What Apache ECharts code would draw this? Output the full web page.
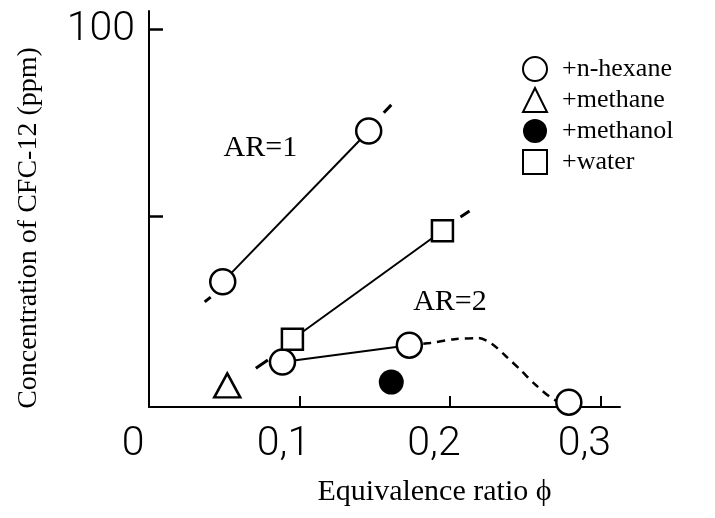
<!DOCTYPE html>
<html>
<head>
<meta charset="utf-8">
<script src="https://cdn.jsdelivr.net/npm/echarts@6/dist/echarts.min.js"></script>
<style>
  html, body { margin: 0; padding: 0; background: #fff; }
  #chart { width: 715px; height: 518px; }
</style>
</head>
<body>
<div id="chart"></div>
<script>
// values, [equivalence ratio, ppm]
const hexaneAR1 = [[0.049, 32.3], [0.146, 72.8]]
const hexaneAR2 = [[0.0887, 10.8], [0.173, 15.3]]
const hexaneAR2Tail = [[0.173, 15.3], [0.187, 15.9], [0.203, 16.9], [0.219, 17.2], [0.228, 15.6],
  [0.237, 12.4], [0.247, 8.6], [0.257, 4.6], [0.270, 0.5], [0.279, 0]]
const hexaneLone = [[0.279, 0]]
const methane = [[0.052, 4.5]]
const methanol = [[0.161, 5.4]]
const water = [[0.0953, 16.9], [0.195, 46]]
// short extension strokes beyond the fitted lines
const extensions = [
  [0.037, 26.9], [0.041, 28.2], '-',
  [0.156, 77.7], [0.161, 79.8], '-',
  [0.207, 49.7], [0.213, 51.3], '-',
  [0.071, 9.1], [0.079, 11.3],
]
const arLabels = [
  { value: [0.074, 68.3], text: 'AR=1' },
  { value: [0.2, 26.9], text: 'AR=2' },
]
const xTicks = [0.1, 0.2, 0.3]
const xLabels = [0, 0.1, 0.2, 0.3]
const yTicks = [50, 100]
const yLabels = [100]

const serif = "'Liberation Serif', 'Times New Roman', serif"
const narrow = "Roboto, 'DejaVu Sans Condensed', sans-serif"

const openStyle = { color: '#fff', borderColor: '#000', borderWidth: 2.5, opacity: 1 }

function lineSeries(data, extra) {
  return Object.assign({
    type: 'line',
    data,
    symbol: 'none',
    silent: true,
    lineStyle: { color: '#000', width: 2 },
    z: 2,
  }, extra)
}

const chart = echarts.init(document.getElementById('chart'))
chart.setOption({
  animation: false,
  backgroundColor: '#fff',
  grid: { left: 149, right: 95, top: 11, bottom: 111, outerBoundsMode: 'none' },
  legend: {
    orient: 'vertical',
    left: 517,
    top: 51,
    itemWidth: 24,
    itemHeight: 24,
    itemGap: 5,
    data: ['+n-hexane', '+methane', '+methanol', '+water'],
    textStyle: { fontFamily: serif, fontSize: 26, lineHeight: 24, color: '#000', padding: [0, 0, 0, 10] },
  },
  xAxis: {
    type: 'value',
    min: 0,
    max: 0.313,
    name: 'Equivalence ratio ϕ',
    nameLocation: 'middle',
    nameGap: 70,
    nameTextStyle: { fontFamily: serif, fontSize: 30, color: '#000', padding: [0, 0, 0, 100] },
    axisLine: { onZero: false, lineStyle: { color: '#000', width: 2 } },
    axisTick: { inside: true, length: 11, customValues: xTicks, lineStyle: { color: '#000', width: 2 } },
    axisLabel: {
      customValues: xLabels,
      formatter: (v) => String(v).replace('.', ','),
      fontFamily: narrow,
      fontWeight: 300,
      fontSize: 41,
      lineHeight: 40,
      color: '#000',
      margin: 18,
      padding: [0, 32, 0, 0],
    },
    splitLine: { show: false },
  },
  yAxis: {
    type: 'value',
    min: -1.3,
    max: 105,
    name: 'Concentration of CFC-12 (ppm)',
    nameLocation: 'middle',
    nameGap: 106,
    nameTextStyle: { fontFamily: serif, fontSize: 28, color: '#000', padding: [0, 38, 0, 0] },
    axisLine: { show: true, onZero: false, lineStyle: { color: '#000', width: 2 } },
    axisTick: { show: true, inside: true, length: 14, customValues: yTicks, lineStyle: { color: '#000', width: 2.5 } },
    axisLabel: {
      customValues: yLabels,
      fontFamily: narrow,
      fontWeight: 300,
      fontSize: 41,
      color: '#000',
      margin: 14,
    },
    splitLine: { show: false },
  },
  series: [
    lineSeries(hexaneAR1),
    lineSeries(water),
    lineSeries(hexaneAR2),
    lineSeries(extensions, { lineStyle: { color: '#000', width: 3 } }),
    lineSeries(hexaneAR2Tail, { smooth: 0.3, lineStyle: { color: '#000', width: 2.5, type: [8, 6] } }),
    {
      name: '+n-hexane',
      type: 'scatter',
      symbol: 'circle',
      symbolSize: 25,
      data: hexaneAR1.concat(hexaneAR2, hexaneLone),
      itemStyle: openStyle,
      z: 5,
    },
    {
      name: '+methane',
      type: 'scatter',
      symbol: 'triangle',
      symbolSize: [26, 24],
      data: methane,
      itemStyle: openStyle,
      z: 5,
    },
    {
      name: '+methanol',
      type: 'scatter',
      symbol: 'circle',
      symbolSize: 25,
      data: methanol,
      itemStyle: { color: '#000', opacity: 1 },
      z: 5,
    },
    {
      name: '+water',
      type: 'scatter',
      symbol: 'rect',
      symbolSize: 21,
      data: water,
      itemStyle: openStyle,
      z: 5,
    },
    {
      type: 'scatter',
      symbolSize: 0,
      silent: true,
      itemStyle: { opacity: 1 },
      data: arLabels.map((d) => ({ value: d.value, name: d.text })),
      label: {
        show: true,
        position: 'inside',
        formatter: (p) => p.name,
        fontFamily: serif,
        fontSize: 30,
        color: '#000',
      },
    },
  ],
})
</script>
</body>
</html>
